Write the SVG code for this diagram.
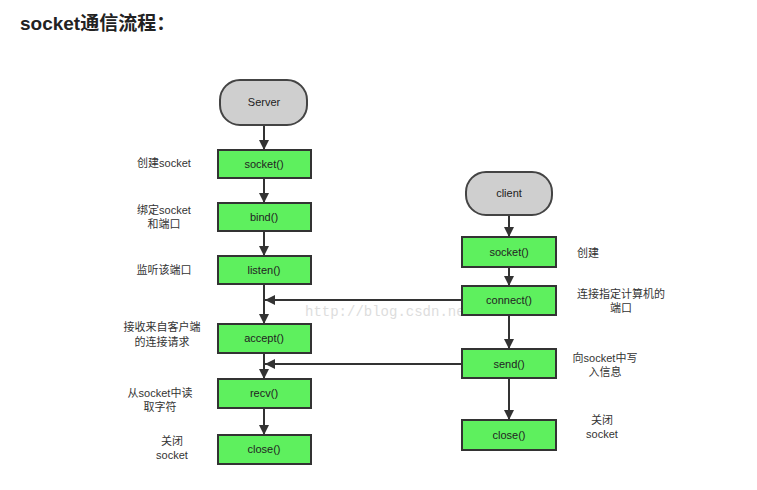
<svg xmlns="http://www.w3.org/2000/svg" width="757" height="490" viewBox="0 0 757 490">
<style>
.b{fill:#5ef05e;stroke:#333;stroke-width:2}
.t{fill:#cfcfcf;stroke:#444;stroke-width:2}
.n{font-family:"Liberation Sans","Noto Sans CJK SC",sans-serif;font-size:11px;fill:#222;text-anchor:middle}
.l{font-family:"Liberation Sans","Noto Sans CJK SC",sans-serif;font-size:11px;fill:#333;text-anchor:middle}
.c{stroke:#333;stroke-width:2;fill:none;marker-end:url(#a)}
</style>
<defs><marker id="a" viewBox="0 0 10 10" refX="10" refY="5" markerWidth="5" markerHeight="5" orient="auto"><path d="M0,0L10,5L0,10z" fill="#333"/></marker></defs>
<rect width="757" height="490" fill="#fff"/>
<text x="20" y="30" font-family="Liberation Sans,'Noto Sans CJK SC',sans-serif" font-size="19" font-weight="bold" fill="#222">socket通信流程：</text>
<text x="305" y="316" font-family="Liberation Mono,monospace" font-size="14" fill="#ddd">http://blog.csdn.net/</text>
<g id="connectors">
<path class="c" d="M264,125V150"/><path class="c" d="M264,178V203"/><path class="c" d="M264,231V256"/>
<path class="c" d="M264,284V324"/><path class="c" d="M264,353V379"/><path class="c" d="M264,408V435"/>
<path class="c" d="M509,215V237"/><path class="c" d="M509,267V286"/><path class="c" d="M509,315V349"/><path class="c" d="M509,378V420"/>
<path class="c" d="M462,300H265"/><path class="c" d="M462,364H265"/>
</g>
<g id="server"><rect class="t" x="220" y="80" width="87" height="45" rx="20"/><text class="n" x="264" y="106">Server</text></g>
<g id="s_socket"><rect class="b" x="218" y="150" width="93" height="28"/><text class="n" x="264" y="168">socket()</text><text class="l" x="164" y="167">创建socket</text></g>
<g id="s_bind"><rect class="b" x="218" y="203" width="93" height="28"/><text class="n" x="264" y="221">bind()</text><text class="l" x="164" y="214">绑定socket</text><text class="l" x="164" y="228">和端口</text></g>
<g id="s_listen"><rect class="b" x="218" y="256" width="93" height="28"/><text class="n" x="264" y="274">listen()</text><text class="l" x="164" y="274">监听该端口</text></g>
<g id="s_accept"><rect class="b" x="218" y="324" width="93" height="29"/><text class="n" x="264" y="342">accept()</text><text class="l" x="162" y="331">接收来自客户端</text><text class="l" x="162" y="346">的连接请求</text></g>
<g id="s_recv"><rect class="b" x="218" y="379" width="93" height="29"/><text class="n" x="264" y="397">recv()</text><text class="l" x="160" y="397">从socket中读</text><text class="l" x="160" y="411">取字符</text></g>
<g id="s_close"><rect class="b" x="218" y="435" width="93" height="29"/><text class="n" x="264" y="453">close()</text><text class="l" x="172" y="445">关闭</text><text class="l" x="172" y="459">socket</text></g>
<g id="client"><rect class="t" x="466" y="172" width="86" height="43" rx="20"/><text class="n" x="509" y="197">client</text></g>
<g id="c_socket"><rect class="b" x="462" y="237" width="94" height="30"/><text class="n" x="509" y="256">socket()</text><text class="l" x="588" y="257">创建</text></g>
<g id="c_connect"><rect class="b" x="462" y="286" width="94" height="29"/><text class="n" x="509" y="304">connect()</text><text class="l" x="621" y="298">连接指定计算机的</text><text class="l" x="621" y="312">端口</text></g>
<g id="c_send"><rect class="b" x="462" y="349" width="94" height="29"/><text class="n" x="509" y="368">send()</text><text class="l" x="605" y="362">向socket中写</text><text class="l" x="605" y="376">入信息</text></g>
<g id="c_close"><rect class="b" x="462" y="420" width="94" height="30"/><text class="n" x="509" y="439">close()</text><text class="l" x="602" y="424">关闭</text><text class="l" x="602" y="438">socket</text></g>
</svg>
